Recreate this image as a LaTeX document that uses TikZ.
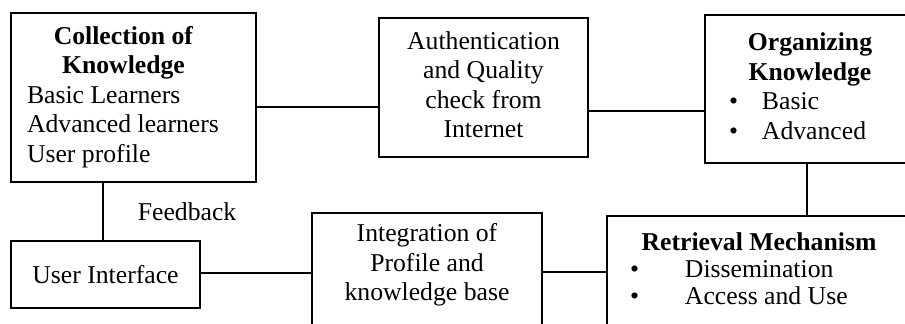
\documentclass[tikz,border=0pt]{standalone}
\usepackage{fontspec}
\setmainfont{Liberation Serif}

\newcommand{\leftrow}[2]{\makebox[#1][l]{#2}}
\newcommand{\bulletrow}[3]{\makebox[#1][l]{\makebox[#2][l]{\textbullet}#3}}

\begin{document}
\begin{tikzpicture}[x=0.5pt,y=-0.5pt,font=\fontsize{12.85}{14.75}\selectfont,
  box/.style={draw,line width=1pt,inner sep=0pt},
  link/.style={line width=0.85pt}]

\useasboundingbox (0,0) rectangle (905,323);
\clip (0,0) rectangle (905,323);

\node[box,minimum width=122.5pt,minimum height=84.5pt] (know) at (133.5,97.5)
  {\begin{tabular}{@{}c@{\hspace{10pt}}}
   \textbf{Collection of}\\ \textbf{Knowledge}\\
   \leftrow{96.5pt}{Basic Learners}\\ \leftrow{96.5pt}{Advanced learners}\\
   \leftrow{96.5pt}{User profile}
   \end{tabular}};
\node[box,minimum width=104.5pt,minimum height=69.5pt] (auth) at (483.5,87.5)
  {\begin{tabular}{@{}c@{}}Authentication\\ and Quality\\ check from\\ Internet\end{tabular}};
\node[box,minimum width=105pt,minimum height=74pt] (organize) at (810,89)
  {\begin{tabular}{@{}c@{}}
   \textbf{Organizing}\\ \textbf{Knowledge}\\
   \bulletrow{81pt}{16.5pt}{Basic}\\ \bulletrow{81pt}{16.5pt}{Advanced}
   \end{tabular}};
\node[box,minimum width=94.5pt,minimum height=33.5pt] (ui) at (105.5,274.5) {User Interface};
\node[box,anchor=north,minimum width=115pt,inner ysep=4pt,text depth=36pt] (integ) at (427,212)
  {\begin{tabular}{@{}c@{}}Integration of\\ Profile and\\ knowledge base\end{tabular}};
\node[box,anchor=north,minimum width=152pt,inner ysep=8pt,text depth=30pt,
  font=\fontsize{12.85}{13.5}\selectfont] (retr) at (759,215)
  {\begin{tabular}{@{}c@{}}
   \textbf{Retrieval Mechanism}\\
   \bulletrow{129pt}{27.5pt}{Dissemination}\\ \bulletrow{129pt}{27.5pt}{Access and Use}
   \end{tabular}};

\path[link] (know.east |- 0,107) edge (auth.west |- 0,107)
  (auth.east |- 0,111) edge (organize.west |- 0,111)
  (organize.south -| 807,0) edge (retr.north -| 807,0)
  (retr.west |- 0,272) edge (integ.east |- 0,272)
  (integ.west |- 0,273) edge (ui.east |- 0,273)
  (know.south -| 103,0) edge node[right=17pt,inner sep=0pt] {Feedback} (ui.north -| 103,0);

\end{tikzpicture}
\end{document}
